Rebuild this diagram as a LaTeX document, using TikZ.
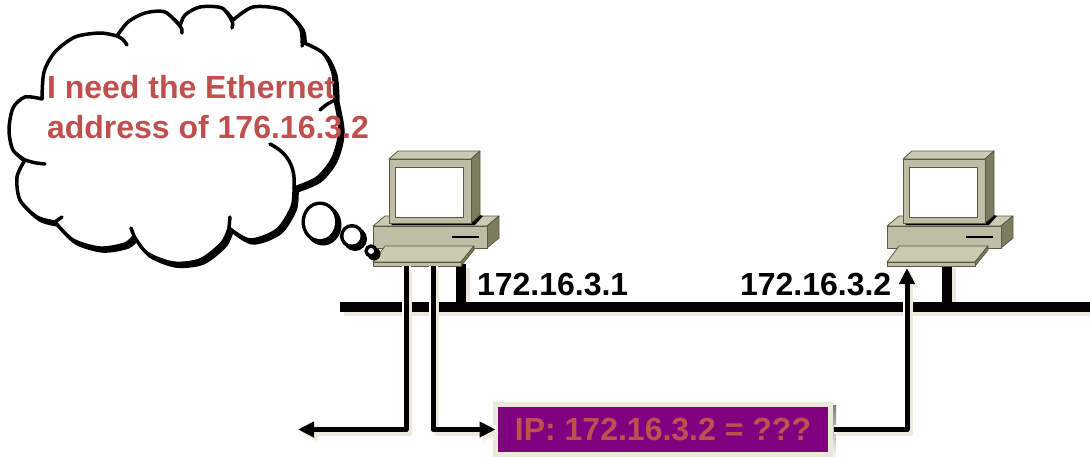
\documentclass[tikz,border=0pt]{standalone}
\usepackage{fontspec}
\setmainfont{Liberation Sans}
\usetikzlibrary{arrows.meta}
\definecolor{txtred}{HTML}{C0504D}
\definecolor{boxpurple}{HTML}{800080}
\definecolor{shade}{HTML}{ECE9DC}
\definecolor{pcfront}{HTML}{BEBEA6}
\definecolor{pctop}{HTML}{CBCBB4}
\definecolor{pcside}{HTML}{7C7C5E}
\definecolor{pcedge}{HTML}{5A5A44}

\begin{document}
\begin{tikzpicture}[x=1pt,y=-1pt,
  every node/.style={inner sep=0pt, outer sep=0pt},
  lbl/.style={font=\fontsize{32}{38}\selectfont\bfseries, anchor=base west},
  face/.style={draw=pcedge, line width=0.8pt, line join=round},
  wire/.style={line width=5pt, line join=round},
  halo/.style={line width=9pt, white},
  drop/.style={draw=shade, transform canvas={shift={(3.5pt,-3.5pt)}}},
  tip/.style={-{Triangle[length=16pt,width=15pt]}},
  stub/.style={line width=3.5pt, line cap=round},
  ipbox/.style={draw=shade, line width=5pt, fill=boxpurple, text=txtred,
    minimum width=335pt, minimum height=50pt,
    font=\fontsize{32}{38}\selectfont\bfseries},
  pc/.pic={
    % system unit
    \filldraw[face, fill=pctop] (373,226) -- (385,216) -- (499,216) -- (487,226) -- cycle;
    \filldraw[face, fill=pcside] (487,226) -- (499,216) -- (499,238) -- (487,248) -- cycle;
    \filldraw[face, fill=pcfront] (373,226) rectangle (487,248);
    \draw[line width=1.5pt] (452,237) -- (479,237);
    % monitor with its shadow on the unit
    \fill[black] (390,222) -- (472,222) -- (480,215) -- (483,216) -- (475,225) -- (392,225) -- cycle;
    \filldraw[face, fill=pctop] (389,159) -- (398,151) -- (480,151) -- (471,159) -- cycle;
    \filldraw[face, fill=pcside] (471,159) -- (480,151) -- (480,215) -- (471,223) -- cycle;
    \filldraw[face, fill=pcfront] (389,159) rectangle (471,223);
    \filldraw[face, fill=white] (395,167) rectangle (463,217);
    % keyboard
    \filldraw[face, fill=pctop] (373,262) -- (385,246) -- (474,246) -- (461,262) -- cycle;
    \filldraw[face, fill=pcside] (461,262) -- (474,246) -- (474,250) -- (461,266) -- cycle;
    \filldraw[face, fill=pcfront] (373,262) rectangle (461,266);
  },
]
\useasboundingbox (0,0) rectangle (1090,456);

% network bus and drop cables, shadows first
\coordinate (busL) at (340,307);
\coordinate (busR) at (1095,307);
\coordinate (stemA) at (461,264);
\coordinate (stemAb) at (461,307);
\coordinate (stemB) at (947,264);
\coordinate (stemBb) at (947,307);
\draw[line width=10pt, drop] (busL) -- (busR);
\draw[line width=10pt, drop] (stemA) -- (stemAb);
\draw[line width=10pt, drop] (stemB) -- (stemBb);
\draw[line width=10pt] (busL) -- (busR);
\draw[line width=10pt] (stemA) -- (stemAb);
\draw[line width=10pt] (stemB) -- (stemBb);

% hosts
\pic (hostA) at (0,0) {pc};
\pic (hostB) at (514,0) {pc};

% ARP request box
\fill[shade] (496,405) rectangle (836,460);
\node[ipbox] (ipbox) at (663,429.5) {IP: 172.16.3.2 = ???};

% frame paths
\coordinate (tapA) at (406,266);
\coordinate (tapB) at (433,266);
\coordinate (outL) at (298,429.5);
\coordinate (tapC) at (907,268);
\coordinate (boxOut) at ([xshift=3]ipbox.east);

\draw[halo] (tapA) |- (outL);
\draw[halo] (tapB) |- (ipbox.west);
\draw[halo] (boxOut) -| (tapC);

\draw[wire, tip, drop] (tapA) |- (outL);
\draw[wire, tip, drop] (tapB) |- (ipbox.west);
\draw[wire, tip, drop] (boxOut) -| (tapC);

\draw[wire, tip] (tapA) |- (outL);
\draw[wire, tip] (tapB) |- (ipbox.west);
\draw[wire, tip] (boxOut) -| (tapC);

% addresses
\node[lbl] (ipA) at (477,295) {172.16.3.1};
\node[lbl] (ipB) at (740,295) {172.16.3.2};

% thought cloud: one lobe after another
\path[save path=\cloudp]
   plot[smooth] coordinates {(42,99) (25,97) (13,108) (9,130) (13,150) (25,160)}
-- plot[smooth] coordinates {(25,160) (17,177) (20,200) (37,217) (55,222)}
-- plot[smooth] coordinates {(55,222) (73,240) (100,248) (125,244) (134,236)}
-- plot[smooth] coordinates {(134,236) (147,253) (173,263) (200,260) (222,243) (229,228)}
-- plot[smooth] coordinates {(229,228) (250,240) (277,230) (292,207) (294,188)}
-- plot[smooth] coordinates {(294,188) (317,178) (333,158) (340,130) (335,100)}
-- plot[smooth] coordinates {(335,100) (333,73) (323,53) (302,42)}
-- plot[smooth] coordinates {(302,42) (300,27) (283,10) (253,7) (232,21)}
-- plot[smooth] coordinates {(232,21) (222,8) (200,7) (185,15) (180,26)}
-- plot[smooth] coordinates {(180,26) (165,12) (145,13) (128,22) (117,36)}
-- plot[smooth] coordinates {(117,36) (100,33) (75,37) (55,52) (44,72) (42,99)}
-- cycle;
\filldraw[line width=3.5pt, line join=round, transform canvas={shift={(3pt,-3pt)}}, use path=\cloudp];
\filldraw[line width=3.5pt, line join=round, fill=white, use path=\cloudp];
% inner ends of the lobes
\draw[stub] (117,36) .. controls (123,39) .. (127,45);
\draw[stub] (180,26) .. controls (182,29) .. (182,33);
\draw[stub] (232,21) .. controls (233,24) .. (232,28);
\draw[stub] (302,42) .. controls (303,44) .. (302,46);
\draw[stub] (335,100) .. controls (327,104) .. (320,110);
\draw[stub] (25,160) .. controls (35,163) .. (45,164);
\draw[stub] (55,222) .. controls (58,220) .. (62,217);
\draw[stub] (134,236) .. controls (133,232) .. (131,228);
\draw[stub] (229,228) .. controls (230,222) .. (230,217);
\draw[stub] (294,188) .. controls (296,165) and (286,152) .. (270,144);

% thought bubbles
\foreach \cx/\cy/\rx/\ry in {320/222/15/17, 352/236/8.5/8.5, 371/251/3/3}{
  \fill ([shift={(3,3)}]\cx,\cy) ellipse[x radius=\rx+3.5, y radius=\ry+3.5];
  \draw[line width=7pt] (\cx,\cy) ellipse[x radius=\rx, y radius=\ry];
  \fill[white] (\cx,\cy) ellipse[x radius=\rx, y radius=\ry];
}

% thought text
\node[lbl, text=txtred] (need1) at (47,98) {I need the Ethernet};
\node[lbl, text=txtred] (need2) at (47,138) {address of 176.16.3.2};
\end{tikzpicture}
\end{document}
